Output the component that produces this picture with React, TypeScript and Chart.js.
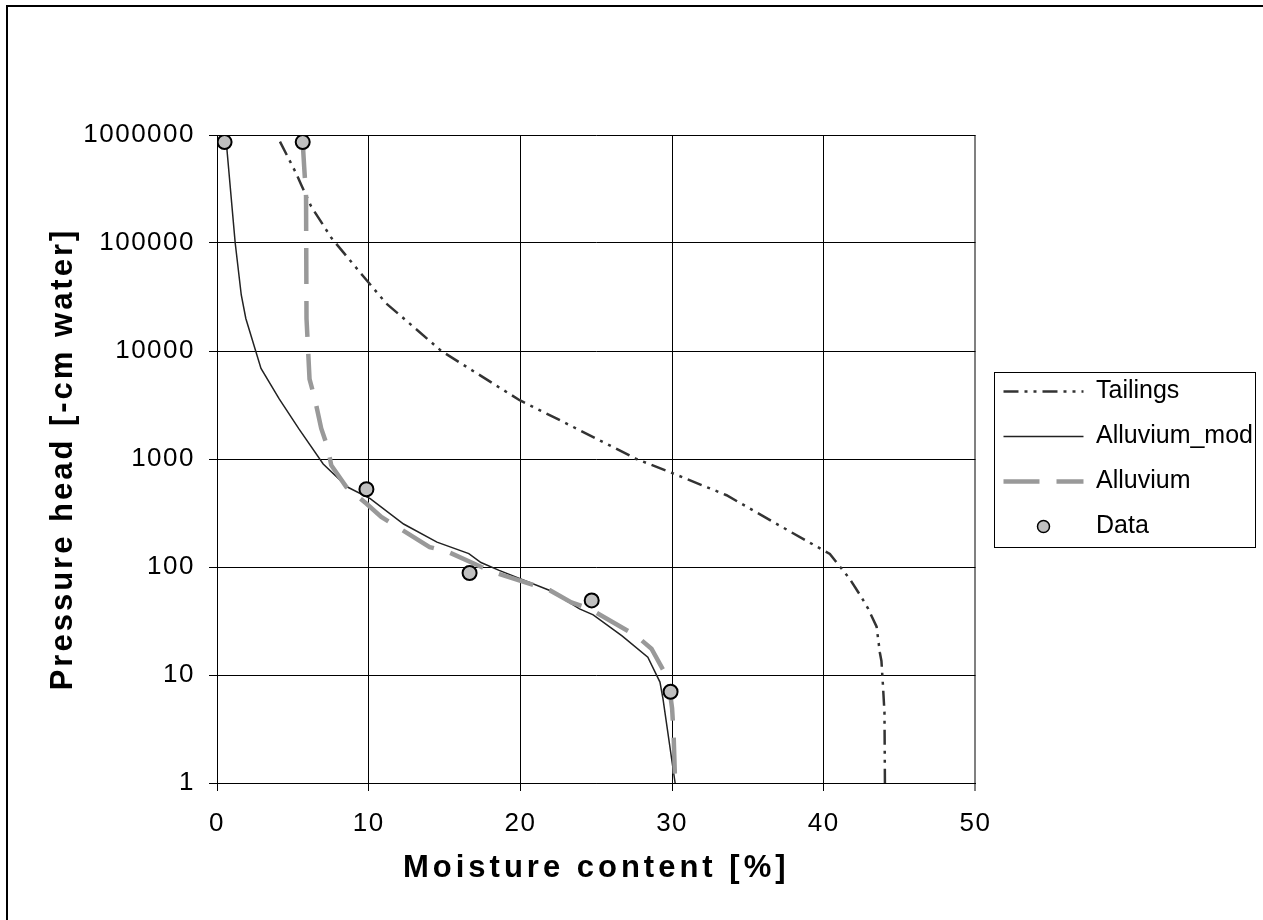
import React, { useEffect, useRef } from 'react';
import { Chart, registerables } from 'chart.js';

Chart.register(...registerables);

// ---------- data ----------
const SERIES_LABELS = ['Tailings', 'Alluvium_mod', 'Alluvium', 'Data'];
const X_TITLE = 'Moisture content [%]';
const Y_TITLE = 'Pressure head [-cm water]';
const X_TICKS = [0, 10, 20, 30, 40, 50];
const Y_TICKS = [1, 10, 100, 1000, 10000, 100000, 1000000];

const TAILINGS_X = [4.15, 5.2, 5.55, 6.2, 7.55, 9.6, 11.16, 12.04, 14.79, 19.95, 22.37, 26.1, 27.65, 30.07, 33.59, 37.6, 40.4, 41.7, 42.5, 42.93, 43.48, 43.7, 43.8, 43.9, 44.0, 44.03];
const TAILINGS_Y = [867000, 447000, 347000, 219000, 111000, 50000, 27500, 21600, 10000, 3500, 2375, 1290, 1000, 735, 462, 220, 132, 78, 52, 41, 28, 16, 13.5, 8, 4.5, 1];

const ALLUVIUM_MOD_X = [0.6, 1.2, 1.6, 1.9, 2.9, 4.1, 5.4, 7.0, 8.6, 10.1, 12.3, 14.5, 16.6, 17.4, 18.6, 21.9, 23.9, 24.8, 26.7, 28.4, 29.2, 29.4, 30.2];
const ALLUVIUM_MOD_Y = [900000, 100000, 33000, 20000, 6900, 3600, 1900, 900, 550, 430, 250, 170, 133, 110, 93, 61, 41, 36, 23, 14.6, 8.6, 6, 1];

const ALLUVIUM_X = [5.65, 5.75, 5.87, 5.9, 6.1, 6.45, 6.87, 7.31, 7.53, 8.52, 9.84, 10.83, 14.02, 15.23, 17.43, 18.52, 21.93, 23.36, 24.57, 27.65, 28.64, 29.74, 30.0, 30.1, 30.2];
const ALLUVIUM_Y = [860000, 500000, 270000, 20000, 5500, 3600, 1920, 1260, 877, 552, 387, 291, 153, 138, 100, 87, 61, 47, 41, 23, 17.5, 9.2, 4.9, 2.8, 1];

const DATA_X = [0.5, 5.65, 9.85, 16.65, 24.7, 29.9];
const DATA_Y = [860000, 860000, 525, 88, 49, 7];

// ---------- styles ----------
const FONT = "'Liberation Sans', Arial, sans-serif";
const X_TITLE_SPACING = '4px';
const Y_TITLE_SPACING = '3px';
const TICK_SPACING = '1.5px';

const toPoints = (xs: number[], ys: number[]) => xs.map((x, i) => ({ x, y: ys[i] }));

const textSpacingPlugin = {
  id: 'textSpacing',
  beforeDraw(chart: any) {
    Object.values(chart.scales).forEach((s: any) => {
      if (s.__spaced) return;
      s.__spaced = true;
      const t = s.drawTitle;
      const l = s.drawLabels;
      const titleSpacing = s.isHorizontal() ? X_TITLE_SPACING : Y_TITLE_SPACING;
      s.drawTitle = function (...a: any[]) {
        const c = this.ctx;
        const prev = c.letterSpacing;
        c.letterSpacing = titleSpacing;
        t.apply(this, a);
        c.letterSpacing = prev || '0px';
      };
      s.drawLabels = function (...a: any[]) {
        const c = this.ctx;
        const prev = c.letterSpacing;
        c.letterSpacing = TICK_SPACING;
        l.apply(this, a);
        c.letterSpacing = prev || '0px';
      };
    });
  },
};

const legendFramePlugin = {
  id: 'legendFrame',
  afterDraw(chart: any) {
    const lg = chart.legend;
    if (!lg || !lg.legendHitBoxes || !lg.legendHitBoxes.length) return;
    const hb = lg.legendHitBoxes;
    const half = 12.5;
    const top = Math.round(hb[0].top + half - 20) + 0.5;
    const bottom = Math.round(hb[hb.length - 1].top + half + 20) + 0.5;
    const left = Math.round(lg.left + 11) + 0.5;
    const right = Math.round(lg.right - 8) + 0.5;
    const ctx = chart.ctx;
    ctx.save();
    ctx.strokeStyle = '#000';
    ctx.lineWidth = 1;
    ctx.setLineDash([]);
    ctx.strokeRect(left, top, right - left, bottom - top);
    ctx.restore();
  },
};

export default function App() {
  const ref = useRef<HTMLCanvasElement>(null);

  useEffect(() => {
    const canvas = ref.current;
    if (!canvas) return;

    const dotIcon = document.createElement('canvas');
    dotIcon.width = 17;
    dotIcon.height = 17;
    const dc = dotIcon.getContext('2d')!;
    dc.beginPath();
    dc.arc(8.5, 8.5, 6, 0, Math.PI * 2);
    dc.fillStyle = '#c0c0c0';
    dc.fill();
    dc.lineWidth = 1.5;
    dc.strokeStyle = '#000';
    dc.stroke();

    const chart = new Chart(canvas, {
      type: 'scatter',
      data: {
        datasets: [
          {
            label: SERIES_LABELS[0],
            data: toPoints(TAILINGS_X, TAILINGS_Y),
            showLine: true,
            borderColor: '#333333',
            backgroundColor: '#333333',
            borderWidth: 2.5,
            borderDash: [15, 6, 3, 6, 3, 6],
            pointRadius: 0,
            tension: 0,
            order: 3,
            yAxisID: 'y',
          },
          {
            label: SERIES_LABELS[1],
            data: toPoints(ALLUVIUM_MOD_X, ALLUVIUM_MOD_Y),
            showLine: true,
            borderColor: '#222222',
            backgroundColor: '#222222',
            borderWidth: 1.5,
            borderDash: [],
            pointRadius: 0,
            tension: 0,
            order: 2,
            yAxisID: 'y',
          },
          {
            label: SERIES_LABELS[2],
            data: toPoints(ALLUVIUM_X, ALLUVIUM_Y),
            showLine: true,
            borderColor: '#999999',
            backgroundColor: '#999999',
            borderWidth: 4.5,
            borderDash: [36, 17],
            pointRadius: 0,
            tension: 0,
            order: 1,
            yAxisID: 'y',
          },
          {
            label: SERIES_LABELS[3],
            data: toPoints(DATA_X, DATA_Y),
            showLine: false,
            borderColor: '#000000',
            backgroundColor: '#c0c0c0',
            borderWidth: 2,
            pointRadius: 7,
            pointStyle: 'circle',
            order: 0,
            yAxisID: 'y',
          },
        ],
      },
      options: {
        animation: false,
        responsive: false,
        devicePixelRatio: 1,
        layout: { padding: { top: 135, left: 0, right: 0, bottom: 0 } },
        plugins: {
          tooltip: { enabled: false },
          legend: {
            position: 'right',
            align: 'center',
            fullSize: false,
            maxWidth: 400,
            labels: {
              usePointStyle: true,
              pointStyleWidth: 80,
              padding: 20,
              color: '#000',
              font: { family: FONT, size: 25 },
              generateLabels: (ch: any) =>
                ch.data.datasets.map((ds: any, i: number) => ({
                  text: ds.label,
                  datasetIndex: i,
                  hidden: false,
                  fontColor: '#000',
                  fillStyle: ds.backgroundColor,
                  strokeStyle: ds.borderColor,
                  lineWidth: ds.showLine ? ds.borderWidth : 0,
                  lineDash: ds.borderDash || [],
                  lineCap: 'butt',
                  pointStyle: ds.showLine ? 'line' : dotIcon,
                })),
            },
          },
        },
        scales: {
          x: {
            type: 'linear',
            min: 0,
            max: 50,
            afterBuildTicks: (s: any) => {
              s.ticks = X_TICKS.map((v) => ({ value: v }));
            },
            afterFit: (s: any) => {
              s.height = 137;
            },
            ticks: {
              color: '#000',
              font: { family: FONT, size: 26 },
              padding: 17,
              callback: (v: any) => String(v),
            },
            grid: {
              color: (c: any) => (c.tick && c.tick.value === 50 ? '#808080' : '#000'),
              lineWidth: (c: any) => (c.tick && c.tick.value === 50 ? 2 : 1),
              tickLength: 8,
            },
            border: { color: '#000', width: 1 },
            title: {
              display: true,
              text: X_TITLE,
              color: '#000',
              font: { family: FONT, size: 31, weight: 'bold' },
              padding: { top: 0, bottom: 33 },
            },
          },
          y: {
            type: 'logarithmic',
            min: 1,
            max: 1000000,
            afterBuildTicks: (s: any) => {
              s.ticks = Y_TICKS.map((v) => ({ value: v }));
            },
            afterFit: (s: any) => {
              s.width = 217;
            },
            ticks: {
              color: '#000',
              font: { family: FONT, size: 26 },
              padding: 14,
              callback: (v: any) => String(v),
            },
            grid: { color: '#000', lineWidth: 1, tickLength: 8 },
            border: { color: '#000', width: 1 },
            title: {
              display: true,
              text: Y_TITLE,
              color: '#000',
              font: { family: FONT, size: 31, weight: 'bold' },
              padding: { top: 45, bottom: 0 },
            },
          },
          yR: {
            type: 'linear',
            position: 'right',
            display: true,
            grid: { display: false },
            ticks: { display: false },
            border: { display: false },
            afterFit: (s: any) => {
              s.width = 8;
            },
          },
        },
      },
      plugins: [textSpacingPlugin, legendFramePlugin],
    } as any);

    return () => chart.destroy();
  }, []);

  return (
    <div
      style={{
        position: 'fixed',
        left: 0,
        top: 0,
        width: 1263,
        height: 920,
        overflow: 'hidden',
        background: '#fff',
      }}
    >
      <div
        style={{
          position: 'absolute',
          left: 6,
          top: 5,
          width: 1300,
          height: 1000,
          border: '2px solid #000',
        }}
      />
      <canvas ref={ref} width={1263} height={920} style={{ position: 'absolute', left: 0, top: 0 }} />
    </div>
  );
}
